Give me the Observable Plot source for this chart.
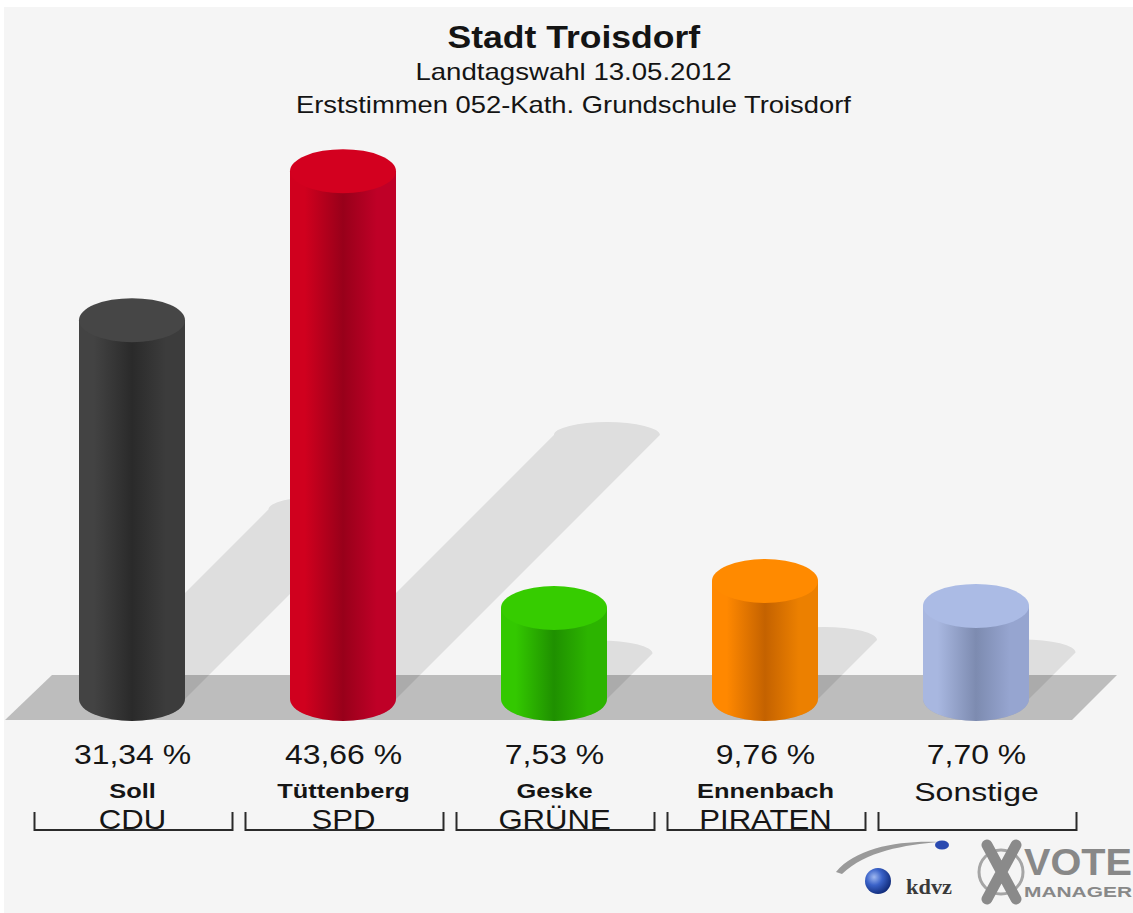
<!DOCTYPE html>
<html><head><meta charset="utf-8">
<script src="https://cdn.jsdelivr.net/npm/d3@7"></script>
<script src="https://cdn.jsdelivr.net/npm/@observablehq/plot@0.6"></script>
<style>
html,body{margin:0;padding:0;background:#fff;}
#page{position:relative;width:1133px;height:913px;overflow:hidden;font-family:"Liberation Sans",Arial,Helvetica,sans-serif;}
#bg{position:absolute;left:4px;top:7px;right:0;bottom:0;background:#f5f5f5;}
#titles{position:relative;height:130px;}
.t{position:absolute;left:7px;width:1133px;text-align:center;line-height:1;color:#141414;white-space:nowrap;}
.t span{display:inline-block;transform:scaleX(1.1);}
#chart{position:relative;height:783px;}
#logo{position:absolute;left:820px;top:830px;}
</style></head>
<body>
<div id="page">
  <div id="bg"></div>
  <div id="titles">
    <div class="t" style="top:21px;font-size:32px;font-weight:bold;"><span style="transform:scaleX(1.11)">Stadt Troisdorf</span></div>
    <div class="t" style="top:60px;font-size:24px;"><span style="transform:scaleX(1.15)">Landtagswahl 13.05.2012</span></div>
    <div class="t" style="top:93px;font-size:24px;"><span style="transform:scaleX(1.14)">Erststimmen 052-Kath. Grundschule Troisdorf</span></div>
  </div>
  <div id="chart"></div>
  <svg id="logo" width="313" height="83" viewBox="0 0 313 83">
    <defs>
      <radialGradient id="sph" cx="0.35" cy="0.35" r="0.7">
        <stop offset="0" stop-color="#9fb8f0"/>
        <stop offset="0.45" stop-color="#3a62c8"/>
        <stop offset="1" stop-color="#102a78"/>
      </radialGradient>
    </defs>
    <path d="M16,42 C36,17 82,10 120,12 C84,15 46,21 22,44 Z" fill="#9a9a9a"/>
    <ellipse cx="122" cy="15" rx="7" ry="4.5" fill="#2a4ab0"/>
    <circle cx="58" cy="51" r="13" fill="url(#sph)"/>
    <text x="86" y="64" font-family="Liberation Serif,serif" font-weight="bold" font-size="22" fill="#3a3a3a" textLength="46" lengthAdjust="spacingAndGlyphs">kdvz</text>
    <circle cx="181" cy="42" r="22" fill="none" stroke="#a5a5a5" stroke-width="3"/>
    <path d="M167,15 L196,69 M196,15 L167,69" stroke="#8a8a8a" stroke-width="11" stroke-linecap="round"/>
    <text x="204" y="45" font-weight="bold" font-size="37" fill="#888" textLength="108" lengthAdjust="spacingAndGlyphs">VOTE</text>
    <text x="204" y="67" font-weight="bold" font-size="15" fill="#888" textLength="108" lengthAdjust="spacingAndGlyphs">MANAGER</text>
  </svg>
</div>
<script>
// ---- data ----
const keys = ["CDU", "SPD", "GRÜNE", "PIRATEN", "Sonstige"];
const partyLabels = ["CDU", "SPD", "GRÜNE", "PIRATEN", ""];
const candidates = ["Soll", "Tüttenberg", "Geske", "Ennenbach", "Sonstige"];
const shares = [31.34, 43.66, 7.53, 9.76, 7.70];
// ---- colours ----
const baseColors  = ["#434343", "#d0001e", "#33c800", "#ff8800", "#a8b7e0"];
const darkColors  = ["#2a2a2a", "#98001a", "#1f9000", "#c46200", "#7d8bb0"];
const rightColors = ["#3c3c3c", "#bf0027", "#2cb400", "#ec8000", "#96a5d0"];
const capColors   = ["#464646", "#d3001f", "#36cc00", "#ff8a00", "#abbbe5"];

const data = keys.map((k, i) => ({key: k, party: partyLabels[i], cand: candidates[i], share: shares[i]}));
const fmt = v => v.toFixed(2).replace(".", ",") + " %";

function floorMark(index, {x, y}) {
  const y0 = y(0), [r0, r1] = x.range();
  const top = y0 - 24, bot = y0 + 21;
  return d3.create("svg:path")
    .attr("d", `M${r0 + 27},${top}L${r1 + 34},${top}L${r1 - 11},${bot}L${r0 - 20},${bot}Z`)
    .attr("fill", "#bdbdbd").node();
}

function shadowMark(index, {x, y}) {
  const g = d3.create("svg:g").attr("fill", "#000").attr("fill-opacity", 0.095);
  const rx = x.bandwidth() / 2, ry = 22, rys = 13, y0 = y(0);
  data.forEach(d => {
    const cx = x(d.key) + rx, h = y0 - y(d.share), s = 0.5 * h;
    g.append("path").attr("d",
      `M${cx - rx},${y0}L${cx - rx + s},${y0 - s}A${rx},${rys} 0 0 1 ${cx + rx + s},${y0 - s}` +
      `L${cx + rx},${y0}A${rx},${ry} 0 0 1 ${cx - rx},${y0}Z`);
  });
  return g.node();
}

function cylinderMark(index, {x, y}) {
  const g = d3.create("svg:g");
  const defs = g.append("defs");
  const rx = x.bandwidth() / 2, ry = 22, y0 = y(0);
  data.forEach((d, i) => {
    const id = "cylgrad" + i;
    const lg = defs.append("linearGradient").attr("id", id)
      .attr("x1", 0).attr("x2", 1).attr("y1", 0).attr("y2", 0);
    [[0, baseColors[i]], [0.14, baseColors[i]], [0.5, darkColors[i]], [0.82, rightColors[i]], [1, rightColors[i]]]
      .forEach(([o, c]) => lg.append("stop").attr("offset", o).attr("stop-color", c));
    const cx = x(d.key) + rx, yv = y(d.share);
    g.append("path")
      .attr("d", `M${cx - rx},${yv}L${cx - rx},${y0}A${rx},${ry} 0 0 0 ${cx + rx},${y0}L${cx + rx},${yv}Z`)
      .attr("fill", `url(#${id})`);
    g.append("ellipse").attr("cx", cx).attr("cy", yv).attr("rx", rx).attr("ry", ry).attr("fill", capColors[i]);
  });
  return g.node();
}

function bracketMark(index, {x, y}) {
  const g = d3.create("svg:g").attr("fill", "none").attr("stroke", "#2a2a2a").attr("stroke-width", 2);
  const y0 = y(0), c = x.bandwidth() / 2 + 1.5;
  data.forEach(d => {
    const cx = x(d.key) + c;
    g.append("path").attr("d", `M${cx - 99},${y0 + 113}L${cx - 99},${y0 + 131}L${cx + 99},${y0 + 131}L${cx + 99},${y0 + 113}`);
  });
  return g.node();
}

const chart = Plot.plot({
  width: 1133,
  height: 783,
  marginLeft: 25,
  marginRight: 50,
  marginTop: 25,
  marginBottom: 214,
  x: {type: "band", domain: keys, paddingInner: 0.5, paddingOuter: 0.25, axis: null},
  y: {domain: [0, 45], axis: null},
  style: {background: "transparent", fontFamily: "'Liberation Sans', Arial, Helvetica, sans-serif", overflow: "visible"},
  marks: [
    Plot.barY(data, {x: "key", y: "share", fill: "none"}),
    floorMark,
    shadowMark,
    cylinderMark,
    Plot.text(data, {x: "key", text: d => fmt(d.share), frameAnchor: "bottom", lineAnchor: "bottom", dy: 64, fontSize: 28, fill: "#151515"}),
    Plot.text(data.filter(d => d.party !== ""), {x: "key", text: "cand", frameAnchor: "bottom", lineAnchor: "bottom", dy: 98, fontSize: 20, fontWeight: "bold", fill: "#151515"}),
    Plot.text(data.filter(d => d.party === ""), {x: "key", text: "cand", frameAnchor: "bottom", lineAnchor: "bottom", dy: 101, fontSize: 25, fill: "#151515"}),
    Plot.text(data, {x: "key", text: "party", frameAnchor: "bottom", lineAnchor: "bottom", dy: 129, fontSize: 28, fill: "#151515"}),
    bracketMark
  ]
});
document.getElementById("chart").appendChild(chart);

// widen text slightly to match the reference's letter widths
const factors = [1.14, 1.27, 1.28, 1.11];
chart.querySelectorAll('g[aria-label="text"]').forEach((g, gi) => {
  const f = factors[gi] || 1.1;
  g.querySelectorAll("text").forEach(t => {
    const L = t.getComputedTextLength();
    if (L > 0) { t.setAttribute("textLength", L * f); t.setAttribute("lengthAdjust", "spacingAndGlyphs"); }
  });
});
</script>
</body></html>
